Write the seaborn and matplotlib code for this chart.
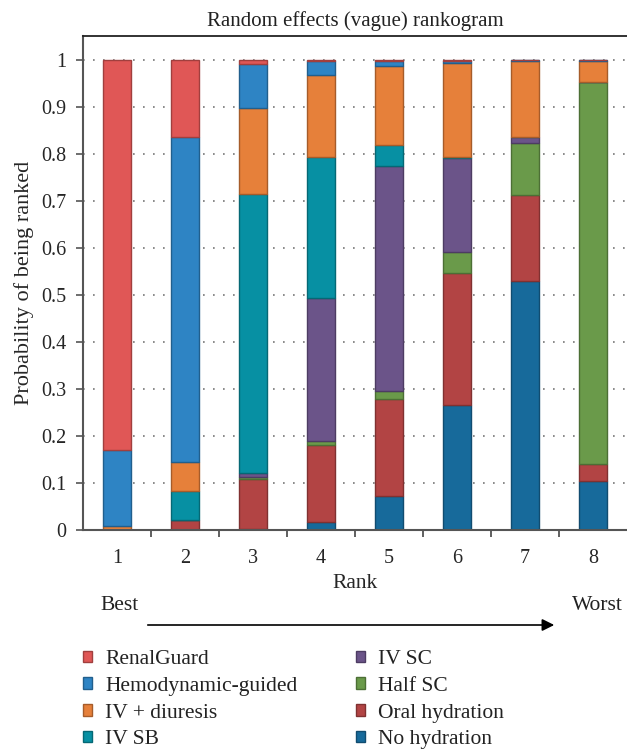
import numpy as np
import pandas as pd
import matplotlib
matplotlib.use("Agg")
import matplotlib.pyplot as plt
import matplotlib.colors as mcolors
from matplotlib.patches import Patch
from matplotlib.ticker import FixedLocator
import seaborn as sns

ranks = [1, 2, 3, 4, 5, 6, 7, 8]
treatments = ["RenalGuard", "Hemodynamic-guided", "IV + diuresis", "IV SB",
              "IV SC", "Half SC", "Oral hydration", "No hydration"]
renalguard = [0.828, 0.163, 0.008, 0.002, 0.003, 0.003, 0.0, 0.0]
hemodynamic = [0.163, 0.692, 0.094, 0.030, 0.010, 0.003, 0.003, 0.002]
iv_diuresis = [0.008, 0.061, 0.182, 0.175, 0.168, 0.200, 0.162, 0.046]
iv_sb = [0.0, 0.062, 0.594, 0.300, 0.044, 0.003, 0.0, 0.0]
iv_sc = [0.0, 0.0, 0.009, 0.303, 0.479, 0.200, 0.012, 0.0]
half_sc = [0.0, 0.0, 0.004, 0.009, 0.017, 0.045, 0.110, 0.812]
oral = [0.0, 0.021, 0.105, 0.165, 0.206, 0.280, 0.183, 0.036]
no_hydration = [0.0, 0.0, 0.003, 0.016, 0.073, 0.266, 0.530, 0.104]
colors = ["#E05756", "#2E84C4", "#E6803A", "#0790A3",
          "#6B5489", "#6A9A4A", "#B24444", "#176A9B"]

series = [renalguard, hemodynamic, iv_diuresis, iv_sb, iv_sc, half_sc, oral, no_hydration]
df = pd.DataFrame({
    "rank": np.tile(ranks, len(treatments)),
    "prob": np.concatenate(series),
    "treatment": np.repeat(treatments, len(ranks)),
})
palette = dict(zip(treatments, colors))

sns.set_style("white")
plt.rcParams["font.family"] = ["Liberation Serif", "DejaVu Serif"]
plt.rcParams["text.color"] = "#222222"

fig = plt.figure(figsize=(6.27, 7.52), dpi=100)
ax = fig.add_axes([0.1324, 0.2952, 0.8676, 0.657])

# el ultimo nivel de hue queda abajo en la pila
sns.histplot(data=df, x="rank", weights="prob", hue="treatment",
             hue_order=treatments, palette=palette, multiple="stack",
             discrete=True, shrink=0.41, alpha=1, legend=False, ax=ax)

for p in ax.patches:
    fc = np.array(mcolors.to_rgb(p.get_facecolor()))
    p.set_edgecolor(tuple(fc * 0.72))
    p.set_linewidth(1.0)

ax.set_xlim(0.5, 8.5)
ax.set_ylim(0, 1.051)
ax.set_xticks(ranks)
ax.set_xticklabels([str(r) for r in ranks], fontsize=14.5)
ax.xaxis.set_minor_locator(FixedLocator([1.5, 2.5, 3.5, 4.5, 5.5, 6.5, 7.5]))
ax.tick_params(axis="x", which="major", length=0, pad=14)
ax.tick_params(axis="x", which="minor", length=5, width=1.2, color="#444444", direction="out", bottom=True)
yt = np.round(np.arange(0, 1.01, 0.1), 1)
ax.set_yticks(yt)
ax.set_yticklabels(["0" if v == 0 else ("1" if v == 1 else f"{v:g}") for v in yt], fontsize=14.5)
ax.tick_params(axis="y", length=5, width=1.2, color="#555555", left=True, direction="out", pad=7)
ax.yaxis.grid(True, linestyle=(0, (1, 5)), color="#777777", linewidth=1.2)
ax.set_axisbelow(True)

for s in ["left", "bottom"]:
    ax.spines[s].set_color("#555555")
    ax.spines[s].set_linewidth(1.5)
ax.spines["top"].set_color("#222222")
ax.spines["top"].set_linewidth(1.3)
ax.spines["right"].set_visible(False)

ax.set_title("Random effects (vague) rankogram", fontsize=15, pad=7)
ax.set_xlabel("Rank", fontsize=15.5, labelpad=4)
ax.set_ylabel("Probability of being ranked", fontsize=16, labelpad=5)

# flecha Best -> Worst
fig.text(100 / 627, 1 - 606 / 752, "Best", fontsize=15.5, va="center", ha="left")
fig.text(623 / 627, 1 - 606 / 752, "Worst", fontsize=15.5, va="center", ha="right")
ax.annotate("", xy=(557 / 627, 1 - 625 / 752), xytext=(145 / 627, 1 - 625 / 752),
            xycoords="figure fraction", textcoords="figure fraction",
            arrowprops=dict(arrowstyle="-|>", color="black", lw=1.2, mutation_scale=18))

handles = [Patch(facecolor=c, edgecolor=tuple(np.array(mcolors.to_rgb(c)) * 0.72), linewidth=1)
           for c in colors]
fig.legend(handles, treatments, ncol=2, loc="upper left",
           bbox_to_anchor=(0.1078, 1 - 635 / 752), frameon=False, fontsize=15.5,
           handlelength=0.45, handleheight=0.45, handletextpad=0.6,
           labelspacing=0.36, columnspacing=2.7, borderpad=0.2)

fig.savefig("out.png", dpi=100)
